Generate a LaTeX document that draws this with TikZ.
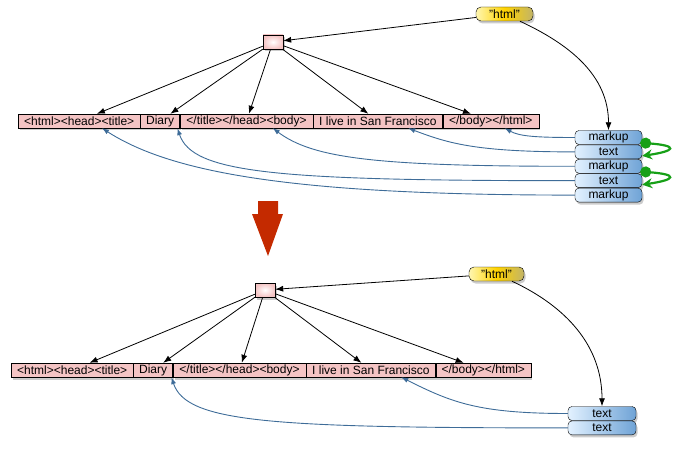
\documentclass[tikz,border=0pt]{standalone}
\usepackage{fontspec}
\setmainfont{Liberation Sans}
\usepackage{tikz}
\usetikzlibrary{positioning, arrows.meta, calc, shadows}
\definecolor{Seg_Pink}{HTML}{F4C4C4}
\definecolor{Str_Light}{HTML}{FFF6B0}
\definecolor{Str_Gold}{HTML}{FFD300}
\definecolor{Str_Olive}{HTML}{C2B468}
\definecolor{Part_Light}{HTML}{E2F1FF}
\definecolor{Part_Blue}{HTML}{6FA3D6}
\definecolor{Link_Blue}{HTML}{3E6C98}
\definecolor{Next_Green}{HTML}{17A017}
\definecolor{Down_Red}{HTML}{C42A00}

\begin{document}
\begin{tikzpicture}[x=1pt, y=1pt, every node/.style={font=\fontsize{12}{14}\selectfont},
  boxshadow/.style={drop shadow={opacity=0.4, shadow xshift=1.5pt, shadow yshift=-2.5pt}},
  segbox/.style={draw, fill=Seg_Pink, inner sep=0pt, minimum height=14pt, boxshadow},
  rootbox/.style={draw, inner color=white, outer color=Seg_Pink, inner sep=0pt, minimum width=20pt, minimum height=14pt, boxshadow},
  strbox/.style={draw, rounded corners=5pt, left color=Str_Light, right color=Str_Olive, middle color=Str_Gold, inner sep=0pt, minimum height=14pt, boxshadow},
  partbox/.style={draw, rounded corners=4pt, left color=Part_Light, right color=Part_Blue, inner sep=0pt, minimum width=67pt, minimum height=14pt, boxshadow},
  treearrow/.style={draw, line width=0.8pt, -{Latex[length=8pt, width=6pt]}},
  backlink/.style={draw=Link_Blue, line width=0.9pt, -{Latex[length=7pt, width=5pt]}},
  nextlink/.style={draw=Next_Green, line width=2.2pt, {Circle[length=11pt]}-{Stealth[length=10pt, width=10pt]}}]
  \useasboundingbox (0,0) rectangle (674,-449);

  % Before: string pieces
  \node[segbox, minimum width=122pt, anchor=west] (seg1) at (18,-121) {<html><head><title>};
  \node[segbox, minimum width=39pt, right=0pt of seg1] (seg2) {Diary};
  \node[segbox, minimum width=133pt, right=0pt of seg2] (seg3) {</title></head><body>};
  \node[segbox, minimum width=129pt, right=0pt of seg3] (seg4) {I live in San Francisco};
  \node[segbox, minimum width=96pt, right=0pt of seg4] (seg5) {</body></html>};
  % Root and format
  \node[rootbox] (root) at (273,-42) {};
  \node[strbox, minimum width=57pt] (str) at (504.5,-14) {"html"};
  % Part list
  \node[partbox] (mk1) at (608.5,-137.5) {markup};
  \node[partbox, below=0pt of mk1] (tx1) {text};
  \node[partbox, below=0pt of tx1] (mk2) {markup};
  \node[partbox, below=0pt of mk2] (tx2) {text};
  \node[partbox, below=0pt of tx2] (mk3) {markup};

  % Tree arrows
  \foreach \i in {1,...,5} {
    \draw[treearrow] (root) -- (seg\i);
  }
  \draw[treearrow] (str) -- (root);
  \draw[treearrow] (str) to[out=-25, in=90] (mk1.north);
  % Parts back to pieces
  \draw[backlink] (mk1.west) .. controls +(-40pt,0pt) and +(15pt,-8pt) .. ([xshift=62pt]seg5.south west);
  \draw[backlink] (tx1.west) .. controls +(-100pt,0pt) and +(40pt,-15pt) .. ([xshift=95pt]seg4.south west);
  \draw[backlink] (mk2.west) .. controls +(-200pt,0pt) and +(40pt,-30pt) .. ([xshift=93pt]seg3.south west);
  \draw[backlink] (tx2.west) .. controls +(-300pt,0pt) and +(15pt,-45pt) .. ([xshift=37pt]seg2.south west);
  \draw[backlink] (mk3.west) .. controls +(-280pt,0pt) and +(70pt,-45pt) .. ([xshift=84pt]seg1.south west);
  % Merge arrows
  \draw[nextlink] ([xshift=-2pt, yshift=2pt]mk1.south east) .. controls +(38pt,-3pt) and +(34pt,5pt) .. ([yshift=-4pt]tx1.east);
  \draw[nextlink] ([xshift=-2pt, yshift=2pt]mk2.south east) .. controls +(38pt,-3pt) and +(34pt,5pt) .. ([yshift=-4pt]tx2.east);

  % Down arrow
  \fill[Down_Red] (258,-201) -- (278,-201) -- (278,-214) -- (283,-214) -- (268,-256) -- (252,-214) -- (258,-214) -- cycle;

  % After: string pieces
  \node[segbox, minimum width=122pt, anchor=west] (bseg1) at (11,-370) {<html><head><title>};
  \node[segbox, minimum width=39pt, right=0pt of bseg1] (bseg2) {Diary};
  \node[segbox, minimum width=133pt, right=0pt of bseg2] (bseg3) {</title></head><body>};
  \node[segbox, minimum width=129pt, right=0pt of bseg3] (bseg4) {I live in San Francisco};
  \node[segbox, minimum width=95pt, right=0pt of bseg4] (bseg5) {</body></html>};
  \node[rootbox] (broot) at (265,-290) {};
  \node[strbox, minimum width=55pt] (bstr) at (496.5,-274) {"html"};
  \node[partbox, minimum width=68pt] (btx1) at (602,-413.5) {text};
  \node[partbox, minimum width=68pt, below=0pt of btx1] (btx2) {text};

  \foreach \i in {1,...,5} {
    \draw[treearrow] (broot) -- (bseg\i);
  }
  \draw[treearrow] (bstr) -- (broot);
  \draw[treearrow] (bstr) to[out=-25, in=90] (btx1.north);
  \draw[backlink] (btx1.west) .. controls +(-90pt,0pt) and +(50pt,-25pt) .. ([xshift=95pt]bseg4.south west);
  \draw[backlink] (btx2.west) .. controls +(-300pt,0pt) and +(15pt,-45pt) .. ([xshift=38pt]bseg2.south west);
\end{tikzpicture}
\end{document}
